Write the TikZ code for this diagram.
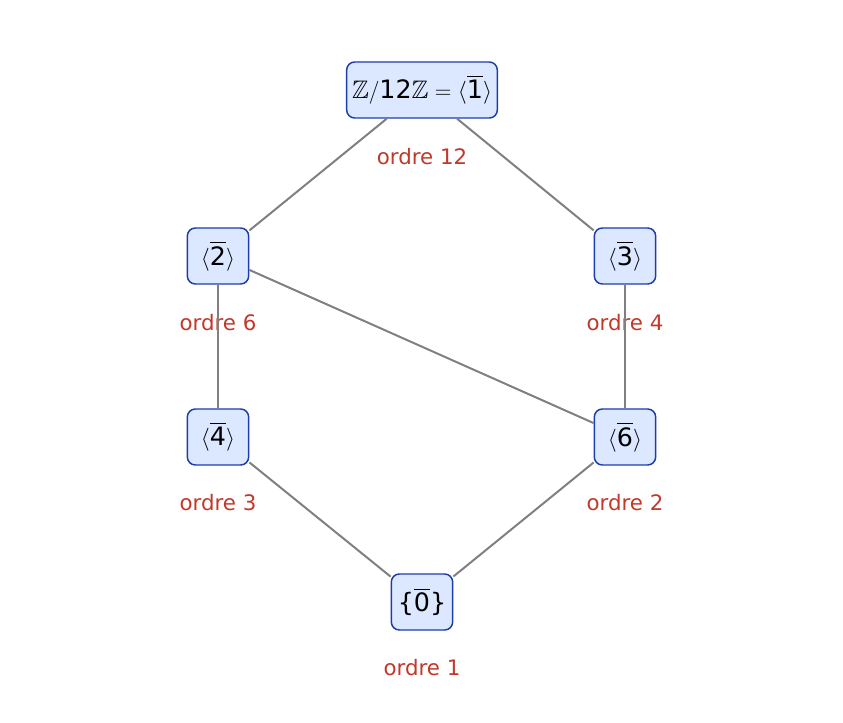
\documentclass[tikz,border=0pt]{standalone}
\usepackage{amsmath,amssymb}
\usepackage{fontspec}
\setmainfont{DejaVu Sans}
\definecolor{bfill}{RGB}{219,232,255}
\definecolor{bdraw}{RGB}{30,60,170}
\definecolor{lred}{RGB}{192,57,43}
\begin{document}
\begin{tikzpicture}[x=0.75pt,y=-0.75pt,
  grp/.style={draw=bdraw,fill=bfill,line width=1.1pt,rounded corners=6pt,minimum height=42pt,minimum width=46pt,inner sep=4pt,font=\fontsize{19}{22}\selectfont},
  lab/.style={text=lred,font=\fontsize{16}{19}\selectfont},
  edge/.style={draw=gray,line width=1.5pt}]
\useasboundingbox (0,0) rectangle (843,723);
\newcommand{\cl}[1]{\overline{\text{#1}}}
\node[grp] (z) at (422,90) {$\mathbb{Z}/\text{12}\mathbb{Z}=\langle\cl{1}\rangle$};
\node[grp] (a2) at (218,256) {$\langle\cl{2}\rangle$};
\node[grp] (a3) at (625,256) {$\langle\cl{3}\rangle$};
\node[grp] (a4) at (218,437) {$\langle\cl{4}\rangle$};
\node[grp] (a6) at (625,437) {$\langle\cl{6}\rangle$};
\node[grp] (a0) at (422,602) {\{$\cl{0}$\}};
\node[lab] (l12) at (422,157) {ordre 12};
\node[lab] (l6) at (218,323) {ordre 6};
\node[lab] (l4) at (625,323) {ordre 4};
\node[lab] (l3) at (218,503) {ordre 3};
\node[lab] (l2) at (625,503) {ordre 2};
\node[lab] (l1) at (422,668) {ordre 1};
\draw[edge] (z) -- (a2);
\draw[edge] (z) -- (a3);
\draw[edge] (a2) -- (a4);
\draw[edge] (a2) -- (a6);
\draw[edge] (a3) -- (a6);
\draw[edge] (a4) -- (a0);
\draw[edge] (a6) -- (a0);
\end{tikzpicture}
\end{document}
